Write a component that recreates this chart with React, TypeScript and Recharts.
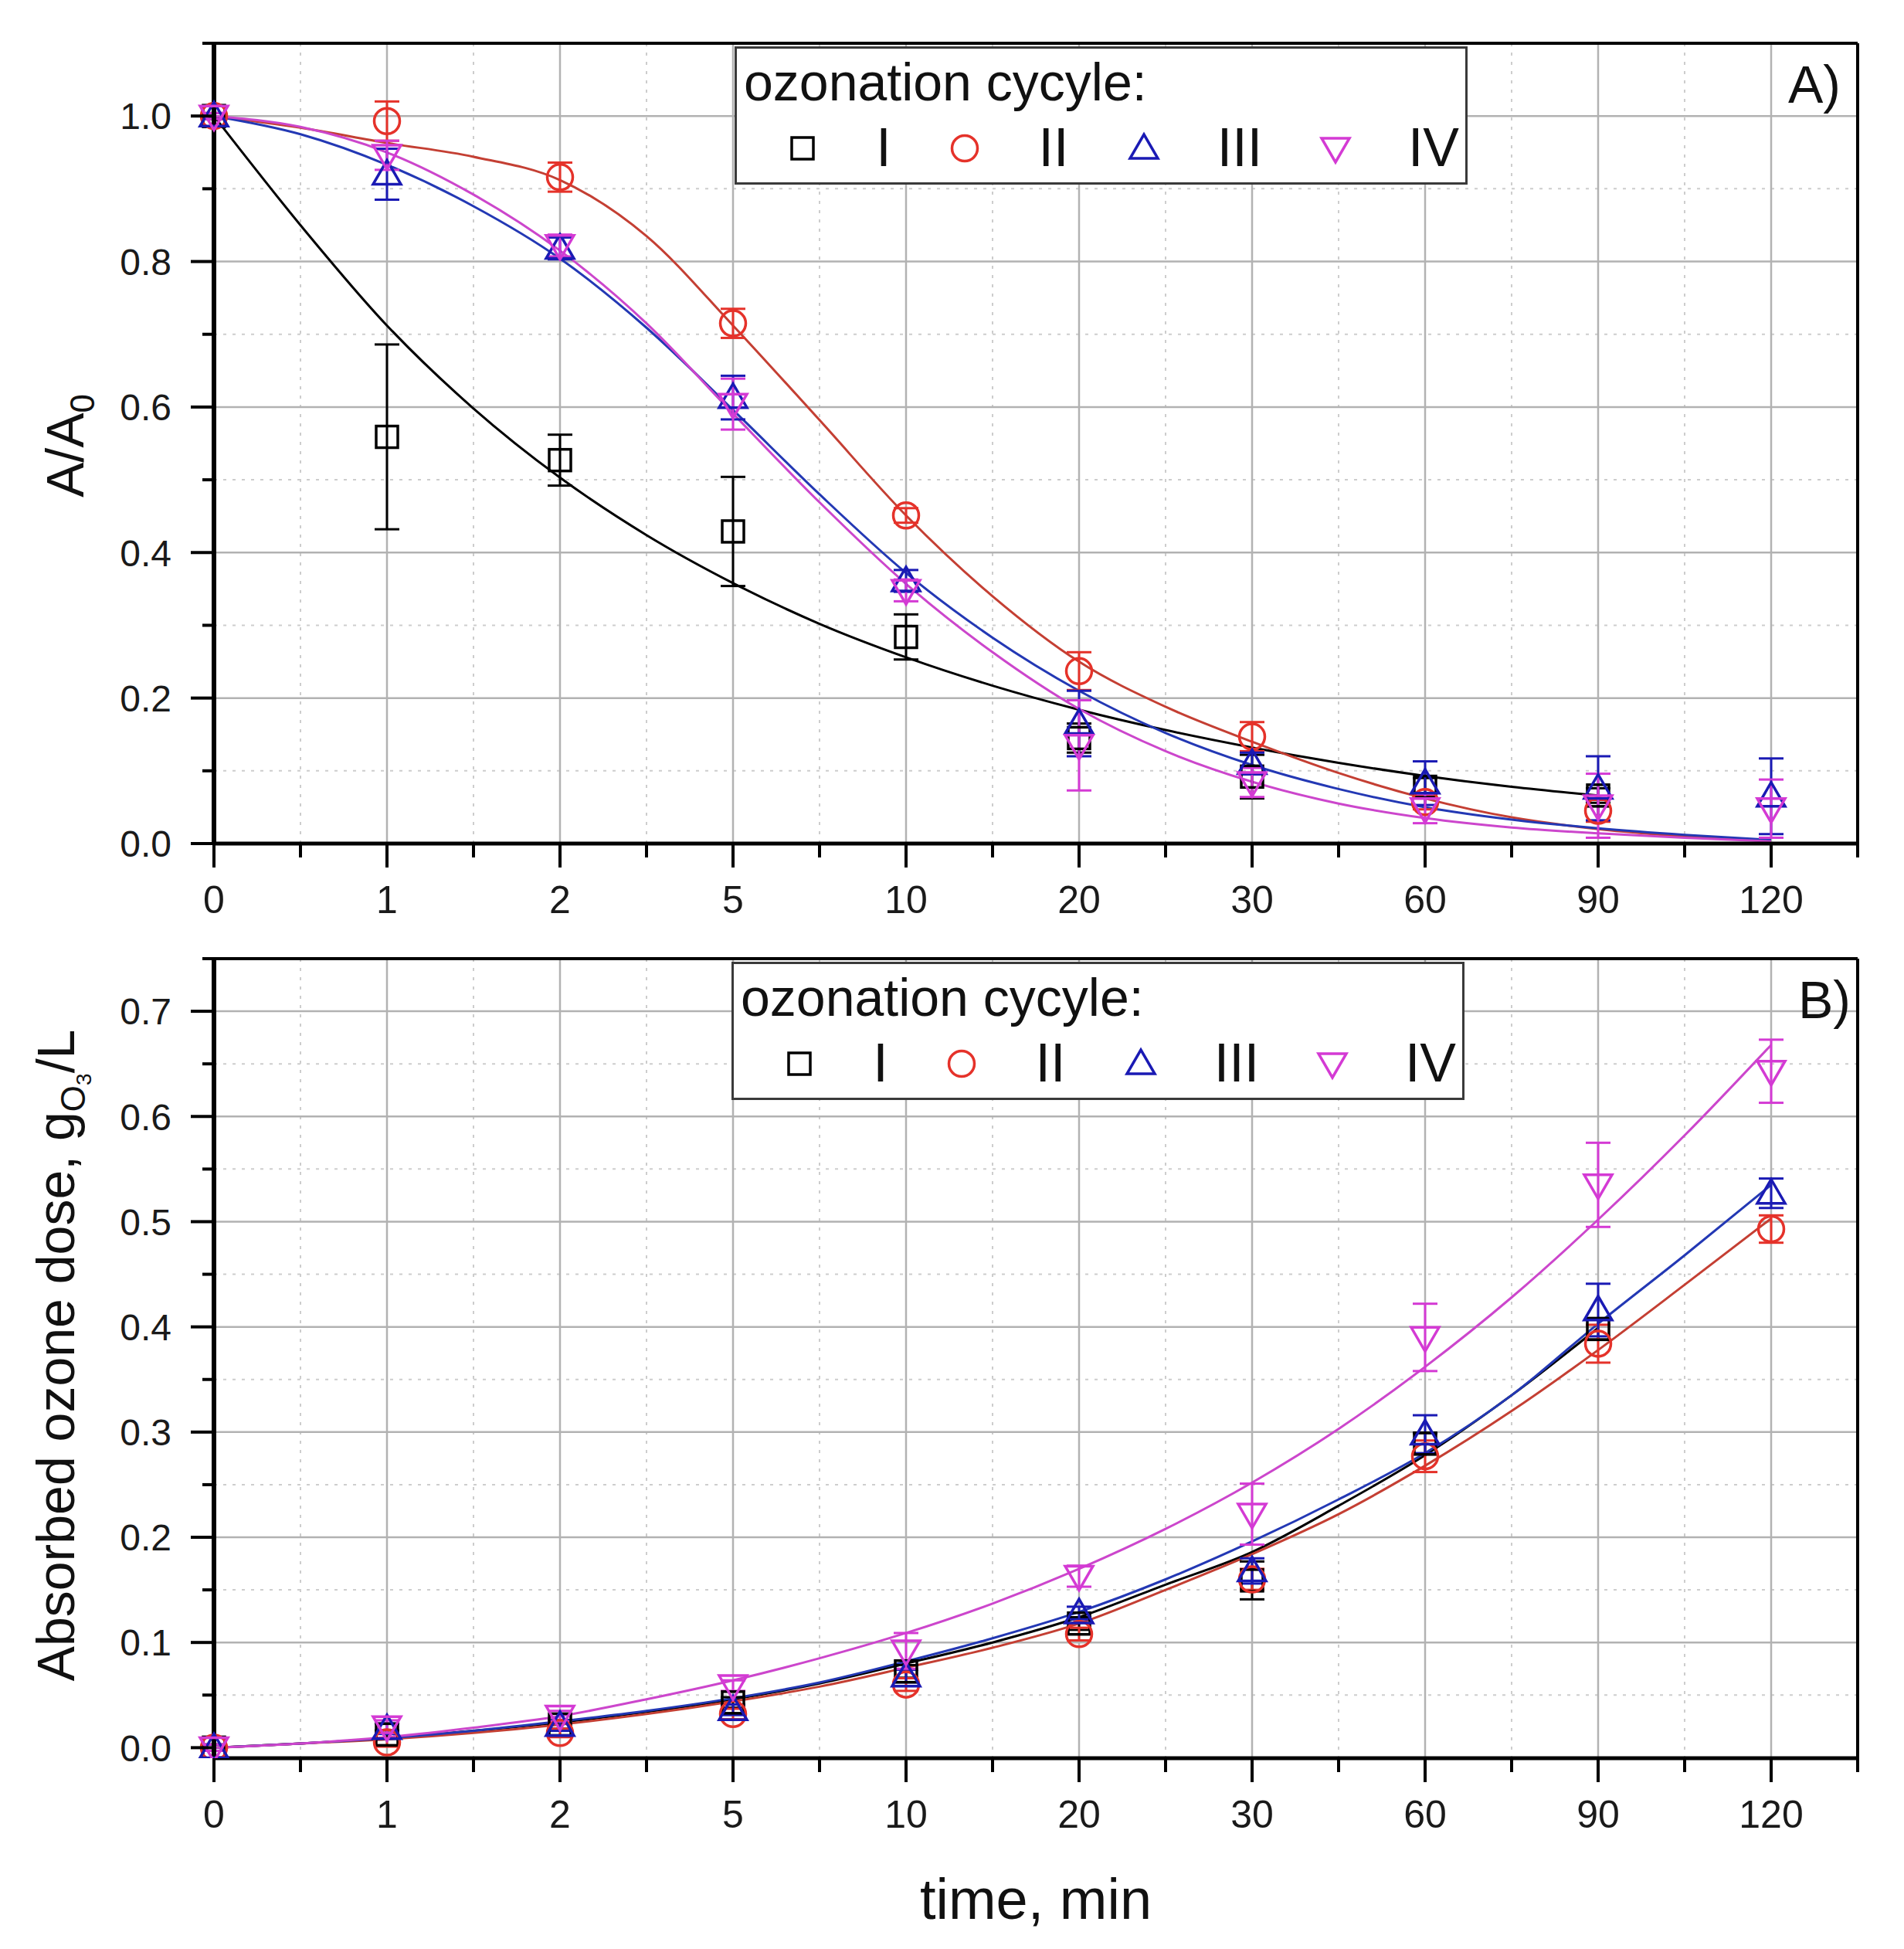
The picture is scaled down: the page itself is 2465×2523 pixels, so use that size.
import React from 'react';
import {
  ComposedChart,
  Line,
  Scatter,
  XAxis,
  YAxis,
  CartesianGrid,
  ErrorBar,
  Legend,
  ReferenceLine,
} from 'recharts';

const FONT = "'Liberation Sans', Arial, Helvetica, sans-serif";

// ---------- categories ----------
const timeLabels = ['0', '1', '2', '5', '10', '20', '30', '60', '90', '120'];
const timePos = [0, 1, 2, 3, 4, 5, 6, 7, 8, 9];
const timeMinorPos = [0.5, 1.5, 2.5, 3.5, 4.5, 5.5, 6.5, 7.5, 8.5, 9.5];
const fitPos = [0, 0.5, 1, 1.5, 2, 2.5, 3, 3.5, 4, 4.5, 5, 5.5, 6, 6.5, 7, 7.5, 8, 8.5, 9];
const seriesNames = ['I', 'II', 'III', 'IV'];

// ---------- panel A: A/A0 ----------
const yMajorA = [0, 0.2, 0.4, 0.6, 0.8, 1.0];
const yMinorA = [0.1, 0.3, 0.5, 0.7, 0.9, 1.1];

const aI = [1.0, 0.559, 0.527, 0.429, 0.284, 0.145, 0.092, 0.078, 0.066];
const aIErr = [0.004, 0.127, 0.035, 0.075, 0.031, 0.02, 0.03, 0.012, 0.01];
const aII = [1.0, 0.993, 0.916, 0.715, 0.451, 0.237, 0.147, 0.057, 0.045];
const aIIErr = [0.004, 0.027, 0.02, 0.02, 0.01, 0.026, 0.02, 0.01, 0.015];
const aIII = [1.0, 0.92, 0.818, 0.613, 0.361, 0.165, 0.11, 0.083, 0.076, 0.065];
const aIIIErr = [0.004, 0.035, 0.015, 0.03, 0.015, 0.045, 0.015, 0.03, 0.044, 0.052];
const aIV = [1.0, 0.946, 0.822, 0.604, 0.348, 0.135, 0.084, 0.048, 0.052, 0.048];
const aIVErr = [0.004, 0.02, 0.015, 0.035, 0.015, 0.062, 0.02, 0.02, 0.044, 0.04];

const fitAI = [1.0, 0.85, 0.712, 0.598, 0.503, 0.424, 0.358, 0.302, 0.256, 0.217, 0.184, 0.156, 0.132, 0.111, 0.093, 0.078, 0.066];
const fitAII = [1.0, 0.984, 0.963, 0.944, 0.912, 0.835, 0.712, 0.582, 0.451, 0.34, 0.25, 0.188, 0.14, 0.097, 0.062, 0.036, 0.02, 0.01, 0.004];
const fitAIII = [1.0, 0.975, 0.933, 0.876, 0.804, 0.709, 0.596, 0.48, 0.372, 0.283, 0.21, 0.152, 0.108, 0.075, 0.05, 0.033, 0.021, 0.012, 0.005];
const fitAIV = [1.0, 0.985, 0.95, 0.892, 0.815, 0.715, 0.591, 0.469, 0.357, 0.263, 0.185, 0.127, 0.085, 0.055, 0.035, 0.022, 0.014, 0.008, 0.003];

// ---------- panel B: absorbed ozone dose ----------
const yMajorB = [0, 0.1, 0.2, 0.3, 0.4, 0.5, 0.6, 0.7];
const yMinorB = [0.05, 0.15, 0.25, 0.35, 0.45, 0.55, 0.65, 0.75];

const bI = [0, 0.0125, 0.022, 0.043, 0.0725, 0.118, 0.159, 0.289, 0.398];
const bIErr = [0.003, 0.004, 0.004, 0.005, 0.006, 0.006, 0.018, 0.01, 0.01];
const bII = [0, 0.005, 0.014, 0.032, 0.06, 0.108, 0.16, 0.277, 0.384, 0.493];
const bIIErr = [0.003, 0.004, 0.004, 0.005, 0.006, 0.006, 0.01, 0.015, 0.018, 0.013];
const bIII = [0, 0.018, 0.021, 0.036, 0.068, 0.128, 0.168, 0.298, 0.416, 0.527];
const bIIIErr = [0.003, 0.005, 0.005, 0.005, 0.006, 0.006, 0.012, 0.018, 0.025, 0.014];
const bIV = [0, 0.02, 0.03, 0.059, 0.092, 0.163, 0.222, 0.39, 0.535, 0.643];
const bIVErr = [0.003, 0.006, 0.005, 0.005, 0.017, 0.01, 0.029, 0.032, 0.04, 0.03];

const fitBI = [0, 0.004, 0.009, 0.016, 0.024, 0.034, 0.046, 0.061, 0.08, 0.1, 0.124, 0.155, 0.186, 0.23, 0.278, 0.335, 0.399];
const fitBII = [0, 0.004, 0.008, 0.014, 0.022, 0.032, 0.044, 0.058, 0.076, 0.095, 0.118, 0.15, 0.184, 0.222, 0.268, 0.32, 0.378, 0.44, 0.503];
const fitBIII = [0, 0.004, 0.009, 0.016, 0.025, 0.035, 0.047, 0.062, 0.082, 0.104, 0.129, 0.16, 0.196, 0.236, 0.28, 0.335, 0.403, 0.468, 0.535];
const fitBIV = [0, 0.004, 0.01, 0.019, 0.03, 0.046, 0.064, 0.085, 0.109, 0.137, 0.17, 0.208, 0.252, 0.303, 0.362, 0.428, 0.502, 0.582, 0.668];

// ---------- styles ----------
const markerColors = ['#000000', '#e5322a', '#1a1ab4', '#d43ad4'];
const curveColors = ['#000000', '#c43f33', '#2338b4', '#cc46cc'];
const markerKinds = ['square', 'circle', 'up', 'down'];

const pts = (vals: number[], errs: number[]) =>
  vals.map((y, i) => ({ x: timePos[i], y, err: errs[i] }));
const fit = (vals: number[]) => vals.map((y, i) => ({ x: fitPos[i], y }));

const MarkerGlyph = ({ kind, cx, cy, color }: any) => {
  const sw = 3.5;
  if (kind === 'square')
    return <rect x={cx - 14} y={cy - 14} width={28} height={28} fill="none" stroke={color} strokeWidth={sw} />;
  if (kind === 'circle') return <circle cx={cx} cy={cy} r={16.5} fill="none" stroke={color} strokeWidth={sw} />;
  if (kind === 'up')
    return (
      <polygon
        points={`${cx - 18},${cy + 13} ${cx + 18},${cy + 13} ${cx},${cy - 18}`}
        fill="none"
        stroke={color}
        strokeWidth={sw}
        strokeLinejoin="miter"
      />
    );
  return (
    <polygon
      points={`${cx - 18},${cy - 13} ${cx + 18},${cy - 13} ${cx},${cy + 18}`}
      fill="none"
      stroke={color}
      strokeWidth={sw}
      strokeLinejoin="miter"
    />
  );
};

const makeShape = (kind: string, color: string) => (p: any) => {
  if (p == null || p.cx == null || p.cy == null) return <g />;
  return <MarkerGlyph kind={kind} cx={p.cx} cy={p.cy} color={color} />;
};

const XTick = (props: any) => {
  const { x, y, payload } = props;
  const v = payload.value;
  const isMajor = Math.abs(v - Math.round(v)) < 1e-6;
  return (
    <g>
      <line x1={x} x2={x} y1={y} y2={y + (isMajor ? 31 : 18)} stroke="#000" strokeWidth={4} />
      {isMajor && (
        <text x={x} y={y + 90} textAnchor="middle" fontSize={50} fontFamily={FONT} fill="#1a1a1a">
          {timeLabels[Math.round(v)]}
        </text>
      )}
    </g>
  );
};

const makeYTick = (majors: number[]) => (props: any) => {
  const { x, y, payload } = props;
  const v = payload.value;
  const isMajor = majors.some((m) => Math.abs(m - v) < 1e-6);
  return (
    <g>
      <line x1={x - (isMajor ? 30 : 15)} x2={x} y1={y} y2={y} stroke="#000" strokeWidth={4} />
      {isMajor && (
        <text x={x - 55} y={y} dy="0.36em" textAnchor="end" fontSize={48} fontFamily={FONT} fill="#1a1a1a">
          {v.toFixed(1)}
        </text>
      )}
    </g>
  );
};

const LegendBox = () => {
  const symX = [88, 298, 530, 778];
  const numX = [193, 413, 654, 905];
  return (
    <svg width={949} height={179} style={{ display: 'block', overflow: 'visible' }}>
      <rect x={1.5} y={1.5} width={946} height={176} fill="#ffffff" stroke="#3a3a3a" strokeWidth={3} />
      <text x={12} y={70} fontSize={68} fontFamily={FONT} fill="#111">
        ozonation cycyle:
      </text>
      {seriesNames.map((n, i) => (
        <g key={n}>
          <MarkerGlyph kind={markerKinds[i]} cx={symX[i]} cy={132} color={markerColors[i]} />
          <text x={numX[i]} y={155} textAnchor="middle" fontSize={70} fontFamily={FONT} fill="#111">
            {n}
          </text>
        </g>
      ))}
    </svg>
  );
};

const YLabelA = (props: any) => {
  const vb = props.viewBox || { x: 0, y: 48, width: 269, height: 1036 };
  const cx = 76;
  const cy = vb.y + vb.height / 2 + 3;
  return (
    <text
      x={cx}
      y={cy}
      transform={`rotate(-90, ${cx}, ${cy})`}
      textAnchor="middle"
      dy="0.36em"
      fontSize={68}
      fontFamily={FONT}
      fill="#111"
    >
      A/A
      <tspan fontSize={44} dy={14}>
        0
      </tspan>
    </text>
  );
};

const YLabelB = (props: any) => {
  const vb = props.viewBox || { x: 0, y: 33, width: 269, height: 1035 };
  const cx = 64;
  const cy = vb.y + vb.height / 2 - 4;
  return (
    <text
      x={cx}
      y={cy}
      transform={`rotate(-90, ${cx}, ${cy})`}
      textAnchor="middle"
      dy="0.36em"
      fontSize={68}
      fontFamily={FONT}
      fill="#111"
    >
      Absorbed ozone dose, g
      <tspan fontSize={44} dy={14}>
        O
      </tspan>
      <tspan fontSize={28} dy={8}>
        3
      </tspan>
      <tspan fontSize={68} dy={-22}>
        /L
      </tspan>
    </text>
  );
};

const XLabel = (props: any) => {
  const vb = props.viewBox || { x: 269, y: 1068, width: 2128, height: 239 };
  return (
    <text x={vb.x + vb.width / 2} y={vb.y + 208} textAnchor="middle" fontSize={74} fontFamily={FONT} fill="#111">
      time, min
    </text>
  );
};

type PanelProps = {
  height: number;
  marginTop: number;
  xAxisHeight: number;
  yDomain: [number, number];
  yMajor: number[];
  yMinor: number[];
  points: { data: any[] }[];
  fits: any[][];
  yLabel: any;
  xLabel?: any;
  legendTop: number;
  legendLeft: number;
};

const Panel = (p: PanelProps) => {
  const yTicks = [...p.yMajor, ...p.yMinor].sort((a, b) => a - b);
  const YTick = makeYTick(p.yMajor);
  const topVal = p.yDomain[1];
  return (
    <ComposedChart
      width={2449}
      height={p.height}
      margin={{ top: p.marginTop, right: 52, bottom: 0, left: 0 }}
    >
      <CartesianGrid
        verticalValues={timeMinorPos.slice(0, 9)}
        horizontalValues={p.yMinor.filter((v) => v < topVal - 1e-9)}
        stroke="#cdcdcd"
        strokeWidth={2}
        strokeDasharray="4 8"
      />
      <CartesianGrid
        verticalValues={timePos.slice(1)}
        horizontalValues={p.yMajor.filter((v) => v > 0)}
        stroke="#b2b2b2"
        strokeWidth={2.5}
      />
      <XAxis
        type="number"
        dataKey="x"
        domain={[0, 9.5]}
        ticks={[...timePos, ...timeMinorPos].sort((a, b) => a - b)}
        interval={0}
        tickSize={0}
        tickMargin={0}
        tickLine={false}
        tick={<XTick />}
        axisLine={{ stroke: '#000', strokeWidth: 5 }}
        height={p.xAxisHeight}
        label={p.xLabel}
      />
      <YAxis
        type="number"
        dataKey="y"
        domain={p.yDomain}
        ticks={yTicks}
        interval={0}
        tickSize={0}
        tickMargin={0}
        tickLine={false}
        tick={<YTick />}
        axisLine={{ stroke: '#000', strokeWidth: 6 }}
        width={269}
        label={p.yLabel}
        allowDataOverflow
      />
      <ReferenceLine y={topVal} stroke="#000" strokeWidth={4} />
      <ReferenceLine x={9.5} stroke="#000" strokeWidth={4} />
      {p.fits.map((f, i) => (
        <Line
          key={'fit' + i}
          data={f}
          dataKey="y"
          type="monotone"
          stroke={curveColors[i]}
          strokeWidth={3}
          dot={false}
          activeDot={false}
          isAnimationActive={false}
          legendType="none"
        />
      ))}
      {p.points.map((s, i) => (
        <Scatter
          key={'pts' + i}
          name={seriesNames[i]}
          data={s.data}
          dataKey="y"
          shape={makeShape(markerKinds[i], markerColors[i])}
          isAnimationActive={false}
        >
          <ErrorBar dataKey="err" direction="y" width={16} stroke={markerColors[i]} strokeWidth={3} />
        </Scatter>
      ))}
      <Legend
        layout="horizontal"
        verticalAlign="middle"
        align="center"
        content={() => <LegendBox />}
        wrapperStyle={{ left: p.legendLeft, top: p.legendTop, width: 949, height: 179 }}
      />
    </ComposedChart>
  );
};

export default function App() {
  return (
    <div style={{ position: 'relative', width: 2449, height: 2507, background: '#fff', fontFamily: FONT }}>
      <div style={{ position: 'absolute', left: 0, top: 0 }}>
        <Panel
          height={1200}
          marginTop={48}
          xAxisHeight={116}
          yDomain={[0, 1.1]}
          yMajor={yMajorA}
          yMinor={yMinorA}
          points={[
            { data: pts(aI, aIErr) },
            { data: pts(aII, aIIErr) },
            { data: pts(aIII, aIIIErr) },
            { data: pts(aIV, aIVErr) },
          ]}
          fits={[fit(fitAI), fit(fitAII), fit(fitAIII), fit(fitAIV)]}
          yLabel={<YLabelA />}
          legendTop={52}
          legendLeft={943}
        />
      </div>
      <div style={{ position: 'absolute', left: 0, top: 1200 }}>
        <Panel
          height={1307}
          marginTop={33}
          xAxisHeight={239}
          yDomain={[-0.01, 0.75]}
          yMajor={yMajorB}
          yMinor={yMinorB}
          points={[
            { data: pts(bI, bIErr) },
            { data: pts(bII, bIIErr) },
            { data: pts(bIII, bIIIErr) },
            { data: pts(bIV, bIVErr) },
          ]}
          fits={[fit(fitBI), fit(fitBII), fit(fitBIII), fit(fitBIV)]}
          yLabel={<YLabelB />}
          xLabel={<XLabel />}
          legendTop={37}
          legendLeft={939}
        />
      </div>
      <svg
        width={2449}
        height={2507}
        style={{ position: 'absolute', left: 0, top: 0, pointerEvents: 'none' }}
      >
        <text x={2375} y={125} textAnchor="end" fontSize={68} fontFamily={FONT} fill="#111">
          A)
        </text>
        <text x={2388} y={1310} textAnchor="end" fontSize={68} fontFamily={FONT} fill="#111">
          B)
        </text>
      </svg>
    </div>
  );
}
